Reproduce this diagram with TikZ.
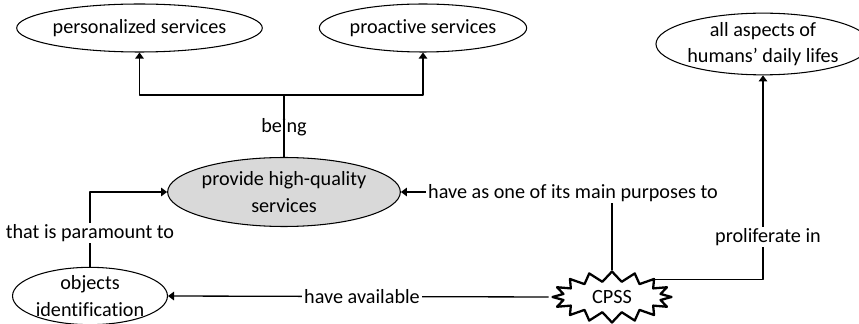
\documentclass[tikz,border=0pt]{standalone}
\usepackage{fontspec}
\setmainfont[Ligatures=NoCommon]{Carlito}
\usetikzlibrary{arrows.meta,shapes.geometric,shapes.symbols}

\begin{document}
\begin{tikzpicture}[x=0.02cm,y=-0.02cm,line cap=round,line join=round,
    font=\fontsize{11.5}{15}\selectfont,
    concept/.style={ellipse,draw,line width=0.6pt,inner sep=0pt,align=center},
    link/.style={line width=0.75pt},
    arr/.style={link,-{Triangle[width=0.17cm,length=0.12cm]}},
    tag/.style={fill=white,inner sep=1pt}]
  \useasboundingbox (0,0) rectangle (859,324);
  % concepts
  \node[concept,minimum width=4.7cm,minimum height=0.96cm] (pers) at (139.5,28) {personalized services};
  \node[concept,minimum width=3.86cm,minimum height=0.96cm] (proact) at (423,28) {proactive services};
  \node[concept,minimum width=3.8cm,minimum height=1.22cm] (aspects) at (763,44) {all aspects of\\humans' daily lifes};
  \node[concept,fill=black!15,minimum width=4.24cm,minimum height=1.38cm] (provide) at (284,192) {provide high-quality\\services};
  \node[concept,minimum width=3.1cm,minimum height=1.1cm] (objects) at (90,296) {objects\\identification};
  \node[starburst,draw,line width=1.3pt,random starburst=0,starburst points=16,
    starburst point height=0.2cm,minimum width=2.38cm,minimum height=1.02cm,inner sep=0pt] (cpss) at (612,297) {CPSS};
  % links
  \coordinate (fork) at (284,95);
  \draw[link] (provide.north) -- (fork);
  \draw[arr] (fork) -| (pers.south);
  \draw[arr] (fork) -| (proact.south);
  \node (being) at (284,127) {being};
  \draw[arr] (objects.north) |- (provide.west);
  \node[tag] (paramount) at (90,233) {that is paramount to};
  \draw[arr] (cpss.north) |- (provide.east);
  \node[tag] (purposes) at (573,193) {have as one of its main purposes to};
  \draw[arr] (cpss.west) -- (objects.east);
  \node[tag] (avail) at (362,297) {have available};
  \draw[arr] (cpss.22) -| (aspects.south);
  \node[tag] (prolif) at (768,237) {proliferate in};
\end{tikzpicture}
\end{document}
